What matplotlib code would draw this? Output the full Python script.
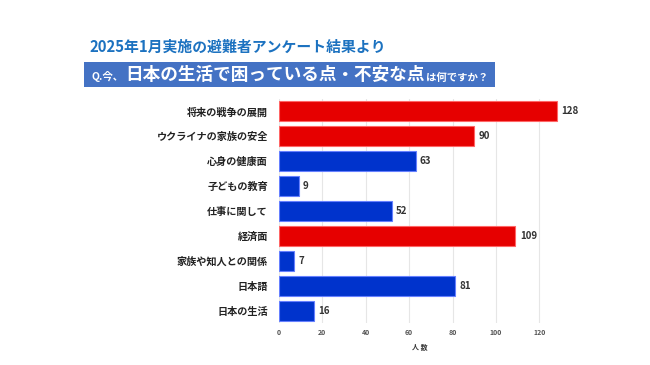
import matplotlib
matplotlib.use("Agg")
from matplotlib import pyplot as plt
from matplotlib.patches import Rectangle

plt.rcParams['font.family'] = ['Noto Sans CJK JP', 'DejaVu Sans']

# データ（上から順に）
categories = ["将来の戦争の展開", "ウクライナの家族の安全", "心身の健康面", "子どもの教育",
              "仕事に関して", "経済面", "家族や知人との関係", "日本語", "日本の生活"]
counts = [128, 90, 63, 9, 52, 109, 7, 81, 16]
highlight = [True, True, False, False, False, True, False, False, False]
xticks = [0, 20, 40, 60, 80, 100, 120]

RED = "#e60000"
BLUE = "#0033cc"

W, H = 650, 365
fig = plt.figure(figsize=(W / 100, H / 100), dpi=100)
fig.patch.set_facecolor("white")

# 軸の位置（ピクセル指定）
left, right, top, bottom = 279, 561, 99, 323
ax = fig.add_axes([left / W, 1 - bottom / H, (right - left) / W, (bottom - top) / H])

ypos = list(range(len(categories)))
colors = [RED if h else BLUE for h in highlight]
edges = ["#ff6666" if h else "#6680ff" for h in highlight]
ax.barh(ypos, counts, height=0.8, color=colors, edgecolor=edges, linewidth=0.8, zorder=3)
ax.set_ylim(len(categories) - 0.5, -0.5)
ax.set_xlim(0, 130)

for y, v in zip(ypos, counts):
    ax.text(v + 2, y, str(v), va="center", ha="left", fontsize=7,
            fontweight="bold", color="#333333")

ax.set_yticks(ypos)
ax.set_yticklabels(categories, fontsize=7.3, fontweight="bold", color="#222222")
ax.set_xticks(xticks)
ax.set_xticklabels([str(t) for t in xticks], fontsize=5, fontweight="bold", color="#555555")
ax.tick_params(axis="both", length=0)
ax.tick_params(axis="y", pad=8)
ax.tick_params(axis="x", pad=4)
ax.grid(axis="x", color="#e6e6e6", linewidth=0.8, zorder=0)
for s in ax.spines.values():
    s.set_visible(False)
ax.set_xlabel("人 数", fontsize=5, fontweight="bold", color="#333333", labelpad=6)

# タイトル
fig.text(89 / W, 1 - 47 / H, "2025年1月実施の避難者アンケート結果より", fontsize=10.7,
         fontweight="bold", color="#1c72c0", va="center", ha="left")

# 質問バナー
bx0, bx1, by0, by1 = 84, 495, 62, 87
fig.patches.append(Rectangle((bx0 / W, 1 - by1 / H), (bx1 - bx0) / W, (by1 - by0) / H,
                             transform=fig.transFigure, facecolor="#4472c4",
                             edgecolor="none", zorder=1))
parts = [("Q.今、", 7.5), ("日本の生活で困っている点・不安な点", 12.7), ("は何ですか？", 7.5)]
fig.canvas.draw()
r = fig.canvas.get_renderer()
x = 92
base = 1 - 80.5 / H
for txt, fs in parts:
    t = fig.text(x / W, base, txt, fontsize=fs, fontweight="bold", color="white",
                 va="baseline", ha="left", zorder=2)
    x += t.get_window_extent(r).width + 1

fig.savefig("out.png", dpi=100)
